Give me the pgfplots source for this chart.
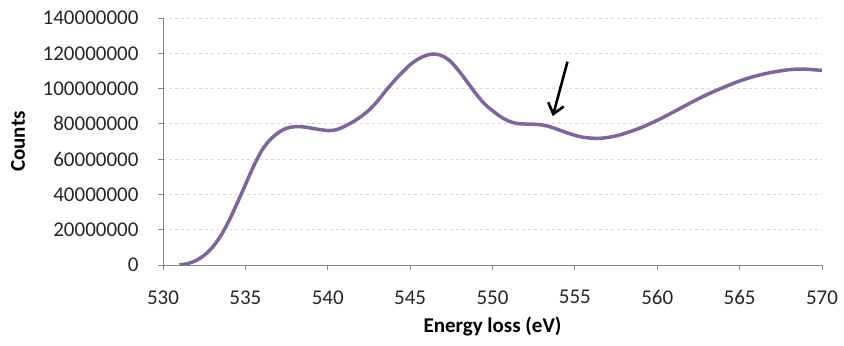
\documentclass[border=0pt]{standalone}
\usepackage{pgfplots}
\pgfplotsset{compat=1.18}
\usepackage{fontspec}
\setmainfont{Carlito}
\usetikzlibrary{arrows.meta}
\definecolor{curve}{HTML}{8064A2}
\definecolor{axgray}{HTML}{868686}
\definecolor{gridgray}{HTML}{D9D9D9}
\begin{document}
\begin{tikzpicture}
\useasboundingbox (0,0) rectangle (844bp,346bp);
\begin{axis}[
  at={(163bp,81bp)}, anchor=south west,
  scale only axis, width=659bp, height=247bp,
  xmin=530, xmax=570, ymin=0, ymax=140000000,
  xtick={530,535,...,570},
  ytick={0,20000000,...,140000000},
  axis x line*=bottom, axis y line*=left,
  axis line style={axgray, line width=0.8bp, -},
  tick style={axgray, line width=0.8bp},
  tick align=outside, major tick length=5bp,
  ymajorgrids, grid style={gridgray, dashed, line width=0.8bp},
  scaled y ticks=false,
  yticklabel style={/pgf/number format/fixed, /pgf/number format/precision=0, /pgf/number format/1000 sep={}, xshift=-16bp},
  xticklabel style={yshift=-17bp},
  /pgf/number format/assume math mode=true,
  ticklabel style={font=\fontsize{21bp}{24bp}\selectfont, text=black!85},
  xlabel={\textbf{Energy loss (eV)}},
  ylabel={\textbf{Counts}},
  xlabel style={at={(axis description cs:0.5,-0.247)}, anchor=center},
  ylabel style={at={(axis description cs:-0.22,0.5)}, anchor=center},
  label style={font=\fontsize{21bp}{24bp}\selectfont},
  clip=true,
]
\addplot[curve, line width=3.5bp, smooth] coordinates {
(531.0,0)
(531.5,800000)
(532.0,2500000)
(532.5,5500000)
(533.0,10000000)
(533.5,16500000)
(534.0,25000000)
(534.5,35000000)
(535.0,45500000)
(535.5,56000000)
(536.0,65000000)
(536.5,71000000)
(537.0,75000000)
(537.5,77500000)
(538.0,78400000)
(538.5,78300000)
(539.0,77600000)
(539.5,76800000)
(540.0,76200000)
(540.5,76600000)
(541.0,78500000)
(541.5,81000000)
(542.0,84000000)
(542.5,87800000)
(543.0,92700000)
(543.5,98500000)
(544.0,104000000)
(544.5,109000000)
(545.0,113500000)
(545.5,116800000)
(546.0,118900000)
(546.5,119600000)
(547.0,118300000)
(547.5,115000000)
(548.0,109500000)
(548.5,103300000)
(549.0,97000000)
(549.5,91500000)
(550.0,87500000)
(550.5,84000000)
(551.0,81500000)
(551.5,80200000)
(552.0,79900000)
(552.5,79800000)
(553.0,79400000)
(553.5,78300000)
(554.0,76700000)
(554.5,75000000)
(555.0,73500000)
(555.5,72400000)
(556.0,71900000)
(556.5,71800000)
(557.0,72300000)
(557.5,73200000)
(558.0,74500000)
(559.0,77800000)
(560.0,82000000)
(561.0,86800000)
(562.0,91800000)
(563.0,96500000)
(564.0,100600000)
(565.0,104300000)
(566.0,107200000)
(567.0,109300000)
(568.0,110700000)
(568.5,111000000)
(569.0,111000000)
(570.0,110300000)
};
\draw[black, line width=2.6bp, -{Straight Barb[length=10bp, width=16bp, line width=2.6bp]}] (axis cs:554.55,115200000) -- (axis cs:553.66,84400000);
\end{axis}
\end{tikzpicture}
\end{document}
